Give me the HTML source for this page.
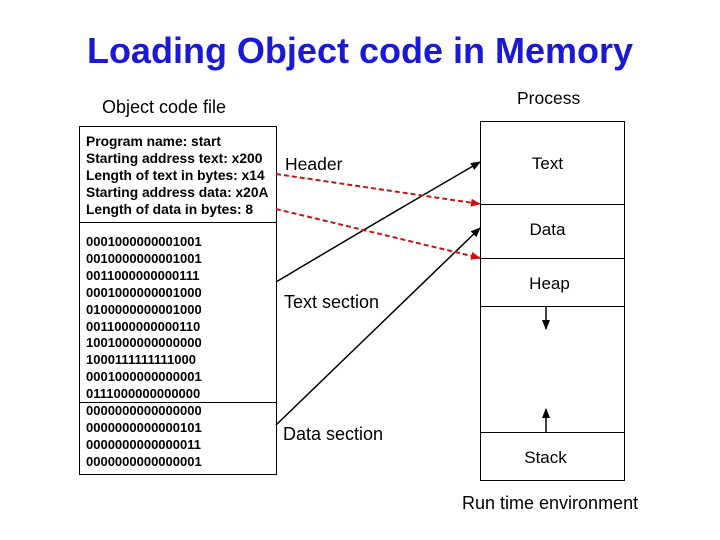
<!DOCTYPE html>
<html><head><style>
body{margin:0;width:720px;height:540px;background:#fff;overflow:hidden;font-family:"Liberation Sans",Arial,sans-serif}
.t{position:absolute;white-space:nowrap}
</style></head><body>
<div class="t" style="left:0;width:720px;text-align:center;top:30px;font-size:36px;font-weight:bold;color:#1a1ad6">Loading Object code in Memory</div>
<div class="t" style="left:102px;top:97px;font-size:18px">Object code file</div>
<div class="t" style="left:517px;top:88px;font-size:17.5px">Process</div>
<div class="t" style="left:462px;top:493px;font-size:18px">Run time environment</div>
<svg width="720" height="540" style="position:absolute;left:0;top:0">
<defs>
<marker id="a" markerWidth="10" markerHeight="8" refX="9" refY="4" orient="auto" markerUnits="userSpaceOnUse"><path d="M0,0L10,4L0,8z" fill="#000"/></marker>
<marker id="r" markerWidth="10" markerHeight="8" refX="9" refY="4" orient="auto" markerUnits="userSpaceOnUse"><path d="M0,0L10,4L0,8z" fill="#d01010"/></marker>
</defs>
<g fill="none" stroke="#000" stroke-width="1">
<rect x="79.5" y="126.5" width="197" height="348"/>
<line x1="79" y1="222.5" x2="276" y2="222.5"/>
<line x1="79" y1="402.5" x2="276" y2="402.5"/>
<rect x="480.5" y="121.5" width="144" height="359"/>
<line x1="480" y1="204.5" x2="624" y2="204.5"/>
<line x1="480" y1="258.5" x2="624" y2="258.5"/>
<line x1="480" y1="306.5" x2="624" y2="306.5"/>
<line x1="480" y1="432.5" x2="624" y2="432.5"/>
</g>
<g stroke="#000" stroke-width="1.5">
<line x1="546" y1="306" x2="546" y2="329" marker-end="url(#a)"/>
<line x1="546" y1="432" x2="546" y2="409" marker-end="url(#a)"/>
<path d="M276,282 Q380,220 480,162" fill="none" marker-end="url(#a)"/>
<line x1="276" y1="425" x2="480" y2="228" marker-end="url(#a)"/>
</g>
<g stroke="#c01818" stroke-width="2" stroke-dasharray="5,3">
<line x1="276" y1="174" x2="480" y2="204" marker-end="url(#r)"/>
<line x1="276" y1="209" x2="480" y2="258" marker-end="url(#r)"/>
</g>
</svg>
<div class="t" style="left:86px;top:133px;font-size:13.8px;font-weight:bold;line-height:17px">Program name: start<br>Starting address text: x200<br>Length of text in bytes: x14<br>Starting address data: x20A<br>Length of data in bytes: 8</div>
<div class="t" style="left:86px;top:234px;font-size:13px;font-weight:bold;line-height:16.9px">0001000000001001<br>0010000000001001<br>0011000000000111<br>0001000000001000<br>0100000000001000<br>0011000000000110<br>1001000000000000<br>1000111111111000<br>0001000000000001<br>0111000000000000<br>0000000000000000<br>0000000000000101<br>0000000000000011<br>0000000000000001</div>
<div class="t" style="left:285px;top:154px;font-size:17.5px">Header</div>
<div class="t" style="left:284px;top:292px;font-size:18px">Text section</div>
<div class="t" style="left:283px;top:424px;font-size:18px">Data section</div>
<div class="t" style="left:475px;width:145px;text-align:center;top:154px;font-size:17px">Text</div>
<div class="t" style="left:475px;width:145px;text-align:center;top:220px;font-size:17px">Data</div>
<div class="t" style="left:477px;width:145px;text-align:center;top:274px;font-size:17px">Heap</div>
<div class="t" style="left:473px;width:145px;text-align:center;top:448px;font-size:17px">Stack</div>
</body></html>
